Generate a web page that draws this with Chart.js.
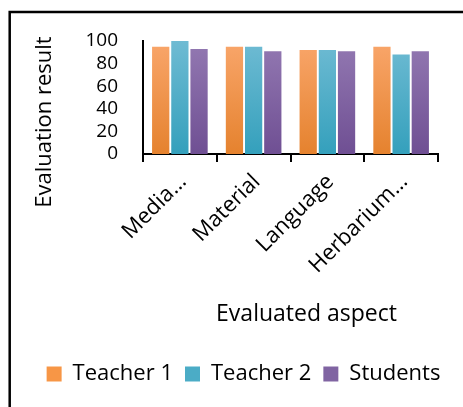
<!DOCTYPE html>
<html>
<head>
<meta charset="utf-8">
<script src="https://cdn.jsdelivr.net/npm/chart.js@4/dist/chart.umd.min.js"></script>
<style>
  html, body { margin: 0; padding: 0; background: #fff; overflow: hidden; }
  #wrap { position: relative; width: 463px; height: 407px; }
</style>
</head>
<body>
<div id="wrap"><canvas id="evalChart"></canvas></div>
<script>
const aspects = ['Media…', 'Material', 'Language', 'Herbarium…'];
const teacher1 = [95, 95, 92, 95];
const teacher2 = [100, 95, 92, 88];
const students = [93, 91, 91, 91];
const yTicks = [0, 20, 40, 60, 80, 100];
const xTitle = 'Evaluated aspect';
const yTitle = 'Evaluation result';

const FONT = "'Open Sans', 'Noto Sans', sans-serif";

// flat colours for the legend, gradient stops for the bars
const flat = ['#F79646', '#4BACC6', '#8064A2'];
const stops = [
  ['#F9A66B', '#E5822E'],
  ['#6FBBD3', '#34A0BC'],
  ['#9379B2', '#6F4F93']
];

function grad(i) {
  return function (c) {
    const { ctx, chartArea } = c.chart;
    if (!chartArea) return flat[i];
    const g = ctx.createLinearGradient(0, chartArea.top, 0, chartArea.bottom);
    g.addColorStop(0, stops[i][0]);
    g.addColorStop(1, stops[i][1]);
    return g;
  };
}

// white background + outer frame like the pasted Excel chart
const frame = {
  id: 'frame',
  beforeDraw(chart) {
    const c = chart.ctx;
    c.save();
    c.fillStyle = '#fff';
    c.fillRect(0, 0, chart.width, chart.height);
    c.strokeStyle = '#000';
    c.lineWidth = 2.5;
    c.strokeRect(9.7, 12, 520, 520);
    c.restore();
  }
};

// axis titles placed the way Excel put them (not centred on the plot box)
const axisTitles = {
  id: 'axisTitles',
  afterDraw(chart) {
    const c = chart.ctx, a = chart.chartArea;
    c.save();
    c.fillStyle = '#000';
    c.textAlign = 'center';
    c.textBaseline = 'middle';
    c.font = '23px ' + FONT;
    c.fillText(xTitle, (a.left + a.right) / 2 + 16, a.bottom + 160);
    c.translate(a.left - 98, a.bottom - 32);
    c.rotate(-Math.PI / 2);
    c.font = '22px ' + FONT;
    c.fillText(yTitle, 0, 0);
    c.restore();
  }
};

Chart.defaults.font.family = FONT;
Chart.defaults.color = '#000';

new Chart(document.getElementById('evalChart'), {
  type: 'bar',
  data: {
    labels: aspects,
    datasets: [
      { label: 'Teacher 1', data: teacher1, backgroundColor: grad(0) },
      { label: 'Teacher 2', data: teacher2, backgroundColor: grad(1) },
      { label: 'Students', data: students, backgroundColor: grad(2) }
    ]
  },
  options: {
    responsive: true,
    maintainAspectRatio: false,
    animation: false,
    datasets: { bar: { categoryPercentage: 0.78, barPercentage: 0.9 } },
    layout: { padding: { left: 24, right: 0, top: 41, bottom: 12 } },
    plugins: {
      tooltip: { enabled: false },
      legend: {
        position: 'bottom',
        labels: {
          font: { size: 22 },
          boxWidth: 15,
          boxHeight: 15,
          padding: 12,
          generateLabels: (chart) => chart.data.datasets.map((d, i) => ({
            text: d.label,
            fillStyle: flat[i],
            strokeStyle: flat[i],
            lineWidth: 0,
            datasetIndex: i,
            hidden: false
          }))
        }
      }
    },
    scales: {
      x: {
        grid: { display: true, drawOnChartArea: false, offset: true, tickLength: 8, color: '#000', lineWidth: 2 },
        border: { display: true, color: '#000', width: 2 },
        ticks: { font: { size: 22 }, minRotation: 45, maxRotation: 45, padding: 7, labelOffset: 3, autoSkip: false },
        afterFit: (s) => { s.height = 197; }
      },
      y: {
        min: 0,
        max: 100,
        afterBuildTicks: (s) => { s.ticks = yTicks.map(v => ({ value: v })); },
        grid: { display: false, drawTicks: false },
        border: { display: true, color: '#000', width: 2 },
        ticks: { font: { size: 19 }, padding: 25, autoSkip: false },
        afterFit: (s) => { s.width = 119; }
      },
      // empty right-hand spacer so the plot ends where the original does
      spacer: {
        position: 'right',
        display: true,
        grid: { display: false },
        border: { display: false },
        ticks: { display: false },
        afterFit: (s) => { s.width = 25; }
      }
    }
  },
  plugins: [frame, axisTitles]
});
</script>
</body>
</html>
